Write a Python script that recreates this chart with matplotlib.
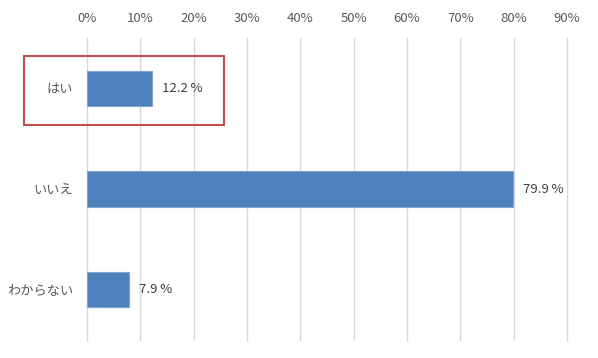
import matplotlib
matplotlib.use("Agg")
import matplotlib.pyplot as plt
from matplotlib.patches import Rectangle

plt.rcParams['font.family'] = ['Noto Sans CJK JP', 'DejaVu Sans']

categories = ["はい", "いいえ", "わからない"]
values = [12.2, 79.9, 7.9]
xticks = [0, 10, 20, 30, 40, 50, 60, 70, 80, 90]
xtick_labels = [f"{t}%" for t in xticks]

W, H = 598, 358
fig = plt.figure(figsize=(W / 100, H / 100), dpi=100)
ax = fig.add_axes([87 / W, 1 - 340 / H, (567 - 87) / W, (340 - 38) / H])

y = list(range(len(categories)))
ax.barh(y, values, height=0.35, color="#4F81BD", edgecolor="#7FA3D0", linewidth=0.8, zorder=3)
ax.set_ylim(len(categories) - 0.5, -0.5)
ax.set_xlim(0, 90)
ax.set_xticks(xticks)
ax.set_xticklabels(xtick_labels)
ax.xaxis.tick_top()
ax.tick_params(axis='x', length=0, pad=9, labelsize=9.5, labelcolor="#595959")
ax.set_yticks(y)
ax.set_yticklabels(categories)
ax.tick_params(axis='y', length=0, pad=10, labelsize=9.5, labelcolor="#595959")
ax.grid(axis='x', color="#D9D9D9", linewidth=1, zorder=0)
for gl in ax.get_xgridlines():
    gl.set_clip_on(False)
for s in ax.spines.values():
    s.set_visible(False)

for yi, v in zip(y, values):
    ax.annotate(f"{v:.1f}\u2009%", xy=(v, yi), xytext=(7, 0), textcoords='offset points',
                va='center', ha='left', fontsize=9.5, color="#404040")

rect = Rectangle((24 / W, 1 - 125 / H), 200 / W, 69 / H, transform=fig.transFigure,
                 fill=False, edgecolor="#C0504D", linewidth=1.5)
fig.patches.append(rect)

fig.savefig("out.png", dpi=100, facecolor="white")
